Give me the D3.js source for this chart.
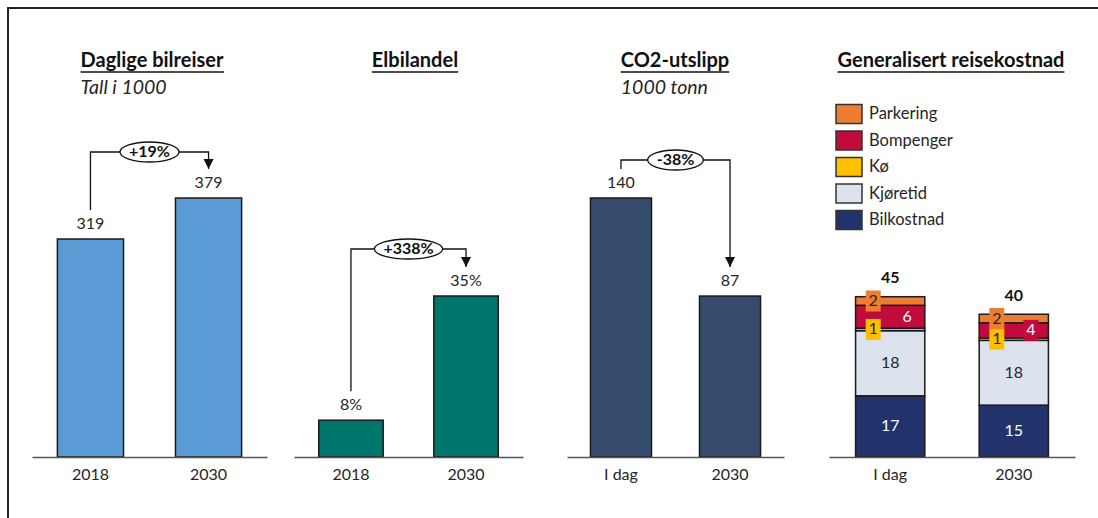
<!DOCTYPE html>
<html>
<head>
<meta charset="utf-8">
<script src="https://cdn.jsdelivr.net/npm/d3@7"></script>
<style>
  body { margin: 0; background: #fff; }
  svg { font-family: Lato, "Open Sans", sans-serif; }
</style>
</head>
<body>
<div id="chart"></div>
<script>
// --- data ---
const bilreiserCats = ["2018", "2030"];
const bilreiserValues = [319, 379];
const elbilCats = ["2018", "2030"];
const elbilValues = [8, 35];
const co2Cats = ["I dag", "2030"];
const co2Values = [140, 87];
const changeLabels = ["+19%", "+338%", "-38%"];

const costCats = ["I dag", "2030"];
const costSeries = ["Bilkostnad", "Kjøretid", "Kø", "Bompenger", "Parkering"];
const bilkostnad = [17.1, 14.5];
const kjoretid = [18.2, 18.1];
const ko = [0.7, 0.7];
const bompenger = [6.4, 4.2];
const parkering = [2.4, 2.4];
const costTotals = [45, 40];

const width = 1098, height = 518;
const baseY = 457;
const ink = "#262626";

const svg = d3.select("#chart").append("svg")
  .attr("width", width)
  .attr("height", height);

// frame (top + left)
svg.append("path")
  .attr("d", `M8,${height} V8 H${width}`)
  .attr("fill", "none")
  .attr("stroke", "#222")
  .attr("stroke-width", 2);

svg.append("defs").append("marker")
  .attr("id", "arrow")
  .attr("viewBox", "0 0 10 10")
  .attr("refX", 10).attr("refY", 5)
  .attr("markerWidth", 8).attr("markerHeight", 8)
  .attr("orient", "auto")
  .append("path")
  .attr("d", "M0,0 L10,5 L0,10 Z")
  .attr("fill", "#111");

function drawTitle(cx, title, sub) {
  const t = svg.append("text")
    .attr("x", cx).attr("y", 62)
    .attr("text-anchor", "middle")
    .attr("dominant-baseline", "middle")
    .attr("font-size", 20)
    .attr("font-weight", "bold")
    .attr("fill", "#111")
    .text(title);
  const bb = t.node().getBBox();
  svg.append("line")
    .attr("x1", bb.x).attr("x2", bb.x + bb.width)
    .attr("y1", 72).attr("y2", 72)
    .attr("stroke", "#111").attr("stroke-width", 1.6);
  if (sub) {
    svg.append("text")
      .attr("x", bb.x).attr("y", 89)
      .attr("dominant-baseline", "middle")
      .attr("font-size", 19.5)
      .attr("font-style", "italic")
      .attr("fill", ink)
      .text(sub);
  }
}

function makeX(cats, range) {
  return d3.scaleBand().domain(cats).range(range)
    .paddingInner(0.44).paddingOuter(0.215);
}

function drawAxis(x) {
  const g = svg.append("g").attr("transform", `translate(0,${baseY})`);
  g.call(d3.axisBottom(x).tickSize(0).tickPadding(12));
  g.select(".domain").attr("stroke", "#555").attr("stroke-width", 1.5);
  g.selectAll("text")
    .attr("font-family", "Lato, sans-serif")
    .attr("font-size", 16)
    .attr("fill", ink);
}

function drawBars(cats, values, range, yMax, yTop, color, fmt) {
  const x = makeX(cats, range);
  const y = d3.scaleLinear().domain([0, yMax]).range([baseY, yTop]);
  const data = cats.map((c, i) => ({ c, v: values[i] }));
  svg.append("g").selectAll("rect")
    .data(data).enter().append("rect")
    .attr("x", d => x(d.c))
    .attr("y", d => y(d.v))
    .attr("width", x.bandwidth())
    .attr("height", d => baseY - y(d.v))
    .attr("fill", color)
    .attr("stroke", "#1a1a1a")
    .attr("stroke-width", 1.5);
  svg.append("g").selectAll("text")
    .data(data).enter().append("text")
    .attr("x", d => x(d.c) + x.bandwidth() / 2)
    .attr("y", d => y(d.v) - 14)
    .attr("text-anchor", "middle")
    .attr("dominant-baseline", "middle")
    .attr("font-size", 16)
    .attr("fill", ink)
    .text(d => fmt(d.v));
  drawAxis(x);
  return { x, y };
}

function drawChange(x, y, cats, values, label, lift) {
  const c0 = x(cats[0]) + x.bandwidth() / 2;
  const c1 = x(cats[1]) + x.bandwidth() / 2;
  const y0 = y(values[0]) - 29;
  const y1 = y(values[1]) - 29;
  const by = Math.min(y(values[0]), y(values[1])) - lift;
  const mid = (c0 + c1) / 2;
  const g = svg.append("g");
  const t = g.append("text")
    .attr("x", mid).attr("y", by + 1)
    .attr("text-anchor", "middle")
    .attr("dominant-baseline", "middle")
    .attr("font-size", 16)
    .attr("font-weight", "bold")
    .attr("fill", "#111")
    .text(label);
  const rx = t.node().getBBox().width / 2 + 9;
  g.append("path")
    .attr("d", `M${c0},${y0} V${by} H${mid - rx}`)
    .attr("fill", "none").attr("stroke", "#111").attr("stroke-width", 1.3);
  g.append("path")
    .attr("d", `M${mid + rx},${by} H${c1} V${y1}`)
    .attr("fill", "none").attr("stroke", "#111").attr("stroke-width", 1.3)
    .attr("marker-end", "url(#arrow)");
  g.insert("ellipse", "text")
    .attr("cx", mid).attr("cy", by)
    .attr("rx", rx).attr("ry", 10)
    .attr("fill", "#fff").attr("stroke", "#111").attr("stroke-width", 1.3);
}

// --- panel 1 ---
drawTitle(152, "Daglige bilreiser", "Tall i 1000");
const p1 = drawBars(bilreiserCats, bilreiserValues, [32, 267], 379, 198, "#5B9BD5", d => d);
drawChange(p1.x, p1.y, bilreiserCats, bilreiserValues, changeLabels[0], 46);

// --- panel 2 ---
drawTitle(415, "Elbilandel", null);
const p2 = drawBars(elbilCats, elbilValues, [294, 523], 35, 296, "#00766D", d => d + "%");
drawChange(p2.x, p2.y, elbilCats, elbilValues, changeLabels[1], 47);

// --- panel 3 ---
drawTitle(675, "CO2-utslipp", "1000 tonn");
const p3 = drawBars(co2Cats, co2Values, [567, 784], 140, 198, "#344B6B", d => d);
drawChange(p3.x, p3.y, co2Cats, co2Values, changeLabels[2], 38);

// --- panel 4: stacked ---
drawTitle(951, "Generalisert reisekostnad", null);
const seriesValues = [bilkostnad, kjoretid, ko, bompenger, parkering];
const seriesColors = ["#22336B", "#DCE3EE", "#FFC000", "#C10B3C", "#ED7D31"];
const labelColors = ["#fff", ink, ink, "#fff", ink];
const labelShift = [0, 0, -17, 17, -17];
const color = d3.scaleOrdinal().domain(costSeries).range(seriesColors);

const costRows = costCats.map((c, i) => {
  const row = { cat: c };
  costSeries.forEach((s, k) => { row[s] = seriesValues[k][i]; });
  return row;
});
const stack = d3.stack().keys(costSeries)(costRows);

const x4 = makeX(costCats, [829, 1075]);
const y4 = d3.scaleLinear().domain([0, 45]).range([baseY, 296]);

const layers = svg.append("g").selectAll("g")
  .data(stack).enter().append("g")
  .attr("fill", d => color(d.key));
layers.selectAll("rect")
  .data(d => d).enter().append("rect")
  .attr("x", d => x4(d.data.cat))
  .attr("y", d => y4(d[1]))
  .attr("width", x4.bandwidth())
  .attr("height", d => y4(d[0]) - y4(d[1]))
  .attr("stroke", "#1a1a1a")
  .attr("stroke-width", 1.5);

// segment labels
stack.forEach((layer, k) => {
  layer.forEach(d => {
    const cx = x4(d.data.cat) + x4.bandwidth() / 2 + labelShift[k];
    const cy = (y4(d[0]) + y4(d[1])) / 2;
    const h = y4(d[0]) - y4(d[1]);
    if (h < 20) {
      svg.append("rect")
        .attr("x", cx - 7.5).attr("y", cy - 10.5)
        .attr("width", 15).attr("height", 21)
        .attr("fill", seriesColors[k]);
    }
    svg.append("text")
      .attr("x", cx).attr("y", cy + 1)
      .attr("text-anchor", "middle")
      .attr("dominant-baseline", "middle")
      .attr("font-size", 16)
      .attr("fill", labelColors[k])
      .text(d3.format(".0f")(d.data[layer.key]));
  });
});

// totals
svg.append("g").selectAll("text")
  .data(costCats).enter().append("text")
  .attr("x", d => x4(d) + x4.bandwidth() / 2)
  .attr("y", (d, i) => y4(costTotals[i]) - 17)
  .attr("text-anchor", "middle")
  .attr("dominant-baseline", "middle")
  .attr("font-size", 16)
  .attr("font-weight", "bold")
  .attr("fill", "#111")
  .text((d, i) => costTotals[i]);

drawAxis(x4);

// legend (top item = Parkering)
const legendKeys = costSeries.slice().reverse();
const legend = svg.append("g").selectAll("g")
  .data(legendKeys).enter().append("g")
  .attr("transform", (d, i) => `translate(836,${114 + i * 26.5})`);
legend.append("rect")
  .attr("x", 0).attr("y", -9.5)
  .attr("width", 26).attr("height", 19)
  .attr("fill", d => color(d))
  .attr("stroke", "#333").attr("stroke-width", 1.5);
legend.append("text")
  .attr("x", 33).attr("y", 1)
  .attr("dominant-baseline", "middle")
  .attr("font-size", 16.5)
  .attr("fill", ink)
  .text(d => d);
</script>
</body>
</html>
